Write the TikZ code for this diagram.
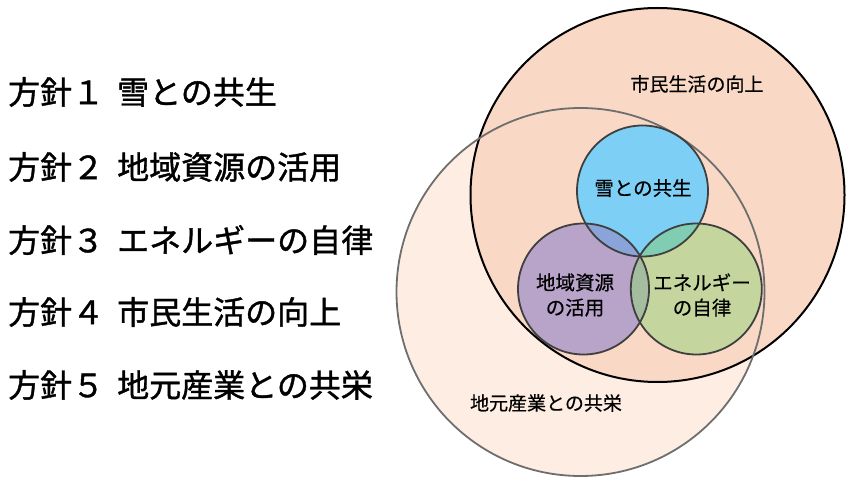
\documentclass[tikz,border=0pt]{standalone}
\usepackage{fontspec}
\setmainfont{Noto Sans CJK JP}
\newfontfamily\listfont[FakeBold=1.2]{Noto Sans CJK JP}
\newfontfamily\labelfont[FakeBold=0.5]{Noto Sans CJK JP}
\definecolor{peach}{HTML}{F9D9C6}
\definecolor{peachlt}{HTML}{FDEDE2}
\definecolor{cblue}{HTML}{7DCFF6}
\definecolor{cpurple}{HTML}{B8A3C9}
\definecolor{cgreen}{HTML}{C4D69E}
\definecolor{cbp}{HTML}{8AA3D8}
\definecolor{cbg}{HTML}{80CDB3}
\definecolor{cpg}{HTML}{A3BD9E}
\definecolor{cbpg}{HTML}{8AAFB8}
\definecolor{ringgrey}{HTML}{6E6E6E}
\definecolor{inneredge}{HTML}{3F3F3F}
\begin{document}
\begin{tikzpicture}[x=1pt,y=-1pt,
  listtext/.style={anchor=west,inner sep=0pt,font=\listfont\fontsize{32}{32}\selectfont},
  innertext/.style={align=center,inner sep=0pt,font=\labelfont\fontsize{19.5}{25}\selectfont},
  outertext/.style={inner sep=0pt,font=\labelfont\fontsize{19}{19}\selectfont},
  inneredgeline/.style={draw=inneredge,line width=1.8pt}]
\useasboundingbox (0,0) rectangle (850,486);
\coordinate (cS) at (657.5,195);
\coordinate (cC) at (580.5,292);
\coordinate (cB) at (642.5,191);
\coordinate (cP) at (583.5,289);
\coordinate (cG) at (696.3,289);
% big rings
\fill[peachlt] (cC) circle[radius=184pt];
\fill[peach] (cS) circle[radius=187pt];
% inner circles
\fill[cblue] (cB) circle[radius=65.5pt];
\fill[cpurple] (cP) circle[radius=65.5pt];
\fill[cgreen] (cG) circle[radius=65.5pt];
\begin{scope}
  \clip (cB) circle[radius=65.5pt];
  \fill[cbp] (cP) circle[radius=65.5pt];
  \fill[cbg] (cG) circle[radius=65.5pt];
\end{scope}
\begin{scope}
  \clip (cP) circle[radius=65.5pt];
  \fill[cpg] (cG) circle[radius=65.5pt];
  \clip (cG) circle[radius=65.5pt];
  \fill[cbpg] (cB) circle[radius=65.5pt];
\end{scope}
% outlines
\draw[black,line width=2pt] (cS) circle[radius=187pt];
\draw[ringgrey,line width=1.8pt] (cC) circle[radius=184pt];
\draw[inneredgeline] (cB) circle[radius=65.5pt];
\draw[inneredgeline] (cP) circle[radius=65.5pt];
\draw[inneredgeline] (cG) circle[radius=65.5pt];
% labels in diagram
\node[outertext] (lS) at (697,84) {市民生活の向上};
\node[outertext] (lC) at (546,403) {地元産業との共栄};
\node[innertext] (lB) at (643,188) {雪との共生};
\node[innertext] (lP) at (575,295) {地域資源\\の活用};
\node[innertext] (lG) at (702,295) {エネルギー\\の自律};
% list
\node[listtext] (p1) at (8,92) {方針１\hspace{13pt}雪との共生};
\node[listtext] (p2) at (8,167) {方針２\hspace{13pt}地域資源の活用};
\node[listtext] (p3) at (8,240) {方針３\hspace{13pt}エネルギーの自律};
\node[listtext] (p4) at (8,312) {方針４\hspace{13pt}市民生活の向上};
\node[listtext] (p5) at (8,385) {方針５\hspace{13pt}地元産業との共栄};
\end{tikzpicture}
\end{document}
